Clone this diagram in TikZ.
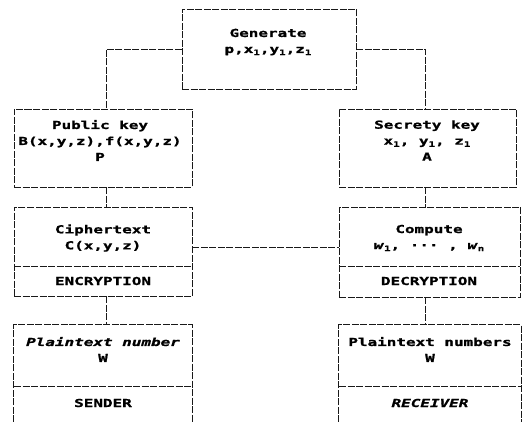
\documentclass[tikz,border=0pt]{standalone}
\usepackage{fontspec}
\newfontfamily\dotfont{DejaVu Sans Mono}[FakeStretch=1.45, BoldFeatures={FakeBold=1.2}, BoldItalicFeatures={FakeBold=1.2}]
\newcommand\sbs[1]{\raisebox{-0.35ex}{\fontsize{7.5}{7.5}\selectfont #1}}
\tikzset{
  frame/.style={draw=black!90, line width=0.95pt, dash pattern=on 7pt off 1.5pt},
  boxnode/.style={frame, rectangle, inner sep=0pt},
  label/.style={font=\dotfont\bfseries\fontsize{11}{16}\selectfont, align=center, inner sep=0pt, text=black},
  link/.style={frame}
}
\begin{document}
\begin{tikzpicture}[x=1pt,y=-1pt]
\useasboundingbox (0,0) rectangle (530,422);

% boxes
\node[boxnode, minimum width=174pt, minimum height=80pt] (gen) at (269,49) {};
\node[boxnode, minimum width=178pt, minimum height=78pt] (pub) at (103,148) {};
\node[boxnode, minimum width=177pt, minimum height=78pt] (sec) at (427.5,148) {};
\node[boxnode, minimum width=178pt, minimum height=89pt] (enc) at (103,251.5) {};
\node[boxnode, minimum width=181pt, minimum height=90pt] (dec) at (429.5,252) {};
% bottom boxes run off the lower edge
\node[minimum width=178pt, minimum height=97pt, inner sep=0pt] (snd) at (103,373.5) {};
\node[minimum width=182pt, minimum height=97pt, inner sep=0pt] (rcv) at (430,373.5) {};
\draw[frame] (snd.south west) -- (snd.north west) -- (snd.north east) -- (snd.south east);
\draw[frame] (rcv.south west) -- (rcv.north west) -- (rcv.north east) -- (rcv.south east);

% dividers
\draw[frame] (14,266) -- (192,266);
\draw[frame] (339,266) -- (520,266);
\draw[frame] (14,386) -- (192,386);
\draw[frame] (339,386) -- (521,386);

% texts
\node[label] (tgen) at (268,42) {Generate\\p,x\sbs{1},y\sbs{1},z\sbs{1}};
\node[label] (tpub) at (100,140.5) {Public key\\B(x,y,z),f(x,y,z)\\P};
\node[label] (tsec) at (427,140.5) {Secrety key\\ x\sbs{1}, y\sbs{1}, z\sbs{1}\\A};
\node[label] (tenc) at (103,238) {Ciphertext\\C(x,y,z)};
\node[label] (tenc2) at (103,281) {ENCRYPTION};
\node[label] (tdec) at (429,238) {Compute\\\textit{w}\sbs{1}, ··· , \textit{w}\sbs{n}};
\node[label] (tdec2) at (429,281) {DECRYPTION};
\node[label] (tsnd) at (103,349.5) {\textit{Plaintext number}\\W};
\node[label] (tsnd2) at (103,403) {SENDER};
\node[label] (trcv) at (430,349.5) {Plaintext numbers\\W};
\node[label] (trcv2) at (430,403) {\textit{RECEIVER}};

% connectors
\draw[link] (gen.west) -| ([xshift=3pt]pub.north);
\draw[link] (gen.east) -| ([xshift=-2.5pt]sec.north);
\draw[link] ([xshift=3pt]pub.south) -- ([xshift=3pt]enc.north);
\draw[link] ([xshift=-2.5pt]sec.south) -- ([xshift=-2.5pt]sec.south |- dec.north);
\draw[link] ([yshift=4.5pt]enc.east) -- ([yshift=4.5pt]enc.east -| dec.west);
\draw[link] ([xshift=3pt]enc.south) -- ([xshift=3pt]snd.north);
\draw[link] ([xshift=-2.5pt]sec.south |- dec.south) -- ([xshift=-2.5pt]sec.south |- rcv.north);
\end{tikzpicture}
\end{document}
